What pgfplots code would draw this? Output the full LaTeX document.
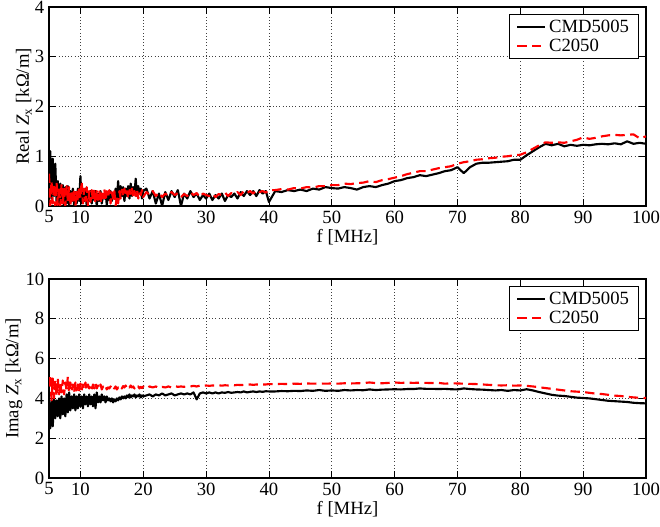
\documentclass[border=0pt]{standalone}
\usepackage{fontspec}
\setmainfont{Liberation Serif}
\usepackage{pgfplots}
\usepackage{pgfplotstable}
\pgfplotsset{compat=1.18}

\pgfplotstableread{
f cmd c
5.0 0.60 0.65
5.2 1.10 0.00
5.4 0.15 0.50
5.6 0.95 0.05
5.8 0.20 0.45
6.0 0.85 0.00
6.2 0.10 0.48
6.4 0.50 0.02
6.6 0.05 0.40
6.8 0.45 0.00
7.0 0.10 0.45
7.2 0.42 0.05
7.4 0.00 0.35
7.6 0.38 0.00
7.8 0.05 0.40
8.0 0.40 0.10
8.2 0.02 0.38
8.4 0.30 0.00
8.6 0.10 0.30
8.8 0.35 0.05
9.0 0.00 0.35
9.2 0.28 0.00
9.4 0.05 0.30
9.6 0.35 0.08
9.8 0.10 0.40
10.0 0.60 0.15
10.2 0.05 0.50
10.4 0.30 0.05
10.6 0.10 0.35
10.8 0.35 0.10
11.0 0.00 0.38
11.2 0.25 0.00
11.4 0.10 0.30
11.6 0.30 0.08
11.8 0.05 0.32
12.0 0.28 0.10
12.2 0.12 0.35
12.4 0.30 0.05
12.6 0.00 0.30
12.8 0.25 0.12
13.0 0.10 0.33
13.2 0.30 0.05
13.4 0.05 0.30
13.6 0.22 0.15
13.8 0.15 0.35
14.0 0.28 0.10
14.2 0.02 0.30
14.4 0.25 0.18
14.6 0.12 0.32
14.8 0.30 0.05
15.0 0.10 0.28
15.2 0.25 0.15
15.4 0.15 0.30
15.6 0.35 0.00
15.8 0.10 0.20
16.0 0.50 0.05
16.2 0.15 0.30
16.4 0.40 0.15
16.6 0.20 0.33
16.8 0.38 0.18
17.0 0.10 0.35
17.2 0.35 0.20
17.4 0.20 0.30
17.6 0.40 0.15
17.8 0.15 0.32
18.0 0.45 0.22
18.2 0.20 0.35
18.4 0.38 0.18
18.6 0.25 0.30
18.8 0.55 0.20
19.0 0.20 0.33
19.2 0.40 0.15
19.4 0.25 0.28
19.6 0.35 0.22
19.8 0.15 0.32
20.0 0.30 0.18
20.5 0.35 0.28
21.0 0.15 0.22
21.5 0.30 0.30
22.0 0.05 0.20
22.5 0.25 0.27
23.0 0.00 0.18
23.5 0.28 0.25
24.0 0.12 0.20
24.5 0.30 0.28
25.0 0.18 0.22
25.5 0.32 0.26
26.0 0.00 0.18
26.5 0.25 0.24
27.0 0.15 0.20
27.5 0.30 0.28
28.0 0.18 0.22
28.5 0.25 0.26
29.0 0.12 0.18
29.5 0.22 0.25
30.0 0.15 0.22
30.5 0.25 0.20
31.0 0.12 0.25
31.5 0.22 0.18
32.0 0.15 0.24
32.5 0.25 0.22
33.0 0.10 0.27
33.5 0.22 0.20
34.0 0.18 0.26
34.5 0.25 0.24
35.0 0.15 0.28
35.5 0.28 0.22
36.0 0.20 0.30
36.5 0.30 0.26
37.0 0.22 0.30
37.5 0.30 0.25
38.0 0.20 0.32
38.5 0.32 0.28
39.0 0.25 0.30
39.5 0.30 0.27
40.0 0.08 0.32
41 0.30 0.32
42 0.28 0.34
43 0.32 0.33
44 0.30 0.36
45 0.33 0.35
46 0.30 0.38
47 0.35 0.37
48 0.33 0.40
49 0.38 0.40
50 0.36 0.42
51 0.35 0.42
52 0.38 0.45
53 0.36 0.44
54 0.33 0.46
55 0.38 0.47
56 0.40 0.50
57 0.38 0.48
58 0.42 0.52
59 0.45 0.54
60 0.50 0.57
61 0.52 0.60
62 0.56 0.64
63 0.58 0.67
64 0.62 0.70
65 0.60 0.70
66 0.63 0.73
67 0.66 0.76
68 0.70 0.78
69 0.72 0.80
70 0.78 0.85
71 0.66 0.88
72 0.78 0.90
73 0.85 0.93
74 0.87 0.94
75 0.87 0.96
76 0.88 0.97
77 0.89 0.99
78 0.90 1.00
79 0.93 1.02
80 0.93 1.03
81 1.02 1.08
82 1.10 1.15
83 1.18 1.22
84 1.25 1.28
85 1.22 1.27
86 1.25 1.28
87 1.20 1.27
88 1.23 1.30
89 1.21 1.33
90 1.23 1.38
91 1.22 1.35
92 1.24 1.37
93 1.25 1.40
94 1.24 1.42
95 1.26 1.43
96 1.24 1.42
97 1.30 1.43
98 1.25 1.44
99 1.27 1.36
100 1.25 1.40
}\realtable

\pgfplotstableread{
f cmd c
5.0 3.80 4.60
5.2 2.50 5.20
5.4 3.90 3.90
5.6 2.60 5.00
5.8 4.00 4.00
6.0 3.00 4.90
6.2 3.90 4.10
6.4 3.10 5.00
6.6 4.00 4.20
6.8 3.00 4.80
7.0 4.10 4.30
7.2 3.20 4.90
7.4 4.00 4.20
7.6 3.10 4.80
7.8 4.20 4.40
8.0 3.30 5.10
8.2 4.30 4.30
8.4 3.40 4.80
8.6 4.10 4.40
8.8 3.50 4.70
9.0 4.20 4.30
9.2 3.40 4.80
9.4 4.10 4.40
9.6 3.50 4.70
9.8 4.20 4.40
10.0 3.60 4.75
10.2 4.10 4.40
10.4 3.50 4.70
10.6 4.20 4.45
10.8 3.70 4.80
11.0 4.10 4.40
11.2 3.60 4.70
11.4 4.20 4.50
11.6 3.70 4.65
11.8 4.10 4.45
12.0 3.60 4.70
12.2 4.20 4.50
12.4 3.50 4.75
12.6 4.30 4.50
12.8 3.80 4.65
13.0 4.10 4.50
13.2 3.80 4.70
13.4 4.20 4.45
13.6 3.90 4.60
13.8 4.10 4.50
14.0 3.80 4.60
14.2 4.10 4.45
14.4 3.90 4.55
14.6 4.00 4.50
14.8 3.85 4.60
15.0 4.00 4.45
15.2 3.80 4.55
15.4 3.95 4.50
15.6 3.85 4.60
15.8 4.00 4.45
16.0 3.90 4.55
16.2 4.05 4.50
16.4 3.95 4.60
16.6 4.10 4.50
16.8 4.00 4.62
17.0 4.10 4.55
17.2 4.00 4.65
17.4 4.15 4.50
17.6 4.05 4.60
17.8 4.20 4.55
18.0 4.05 4.65
18.2 4.15 4.55
18.4 4.10 4.60
18.6 4.20 4.50
18.8 4.05 4.62
19.0 4.15 4.55
19.2 4.10 4.60
19.4 4.20 4.50
19.6 4.05 4.58
19.8 4.15 4.52
20.0 4.10 4.60
20.5 4.15 4.50
21.0 4.20 4.60
21.5 4.10 4.55
22.0 4.20 4.60
22.5 4.15 4.52
23.0 4.25 4.58
23.5 4.15 4.55
24.0 4.20 4.60
24.5 4.25 4.55
25.0 4.15 4.62
25.5 4.20 4.58
26.0 4.25 4.60
26.5 4.20 4.58
27.0 4.25 4.62
27.5 4.20 4.60
28.0 4.30 4.63
28.5 3.95 4.60
29.0 4.25 4.64
29.5 4.30 4.62
30.0 4.25 4.65
30.5 4.30 4.63
31.0 4.25 4.65
31.5 4.30 4.64
32.0 4.25 4.66
32.5 4.30 4.64
33.0 4.28 4.66
33.5 4.32 4.65
34.0 4.28 4.67
34.5 4.30 4.66
35.0 4.32 4.68
35.5 4.30 4.67
36.0 4.35 4.68
36.5 4.30 4.68
37.0 4.33 4.70
37.5 4.35 4.68
38.0 4.32 4.70
38.5 4.35 4.69
39.0 4.33 4.70
39.5 4.36 4.70
40.0 4.35 4.72
41 4.35 4.72
42 4.37 4.73
43 4.36 4.72
44 4.38 4.74
45 4.37 4.73
46 4.40 4.75
47 4.38 4.74
48 4.42 4.75
49 4.38 4.74
50 4.40 4.75
51 4.38 4.74
52 4.42 4.76
53 4.40 4.75
54 4.42 4.76
55 4.41 4.77
56 4.45 4.80
57 4.42 4.77
58 4.44 4.76
59 4.45 4.78
60 4.46 4.80
61 4.45 4.78
62 4.47 4.79
63 4.47 4.78
64 4.50 4.79
65 4.48 4.78
66 4.48 4.77
67 4.47 4.78
68 4.48 4.74
69 4.46 4.76
70 4.45 4.75
71 4.50 4.74
72 4.47 4.73
73 4.45 4.72
74 4.44 4.70
75 4.42 4.68
76 4.40 4.66
77 4.42 4.65
78 4.38 4.66
79 4.42 4.64
80 4.40 4.65
81 4.46 4.63
82 4.40 4.60
83 4.32 4.56
84 4.25 4.52
85 4.18 4.48
86 4.14 4.44
87 4.12 4.40
88 4.08 4.36
89 4.04 4.34
90 4.02 4.32
91 4.00 4.28
92 3.96 4.24
93 3.92 4.22
94 3.88 4.18
95 3.86 4.14
96 3.84 4.12
97 3.82 4.08
98 3.78 4.05
99 3.76 4.03
100 3.75 4.02
}\imagtable

\pgfplotsset{
  zplot/.style={
    scale only axis,
    width=447.75pt, height=149.25pt,
    xmin=5, xmax=100,
    xtick={5,10,20,30,40,50,60,70,80,90,100},
    font=\fontsize{14}{16}\selectfont,
    /pgf/number format/assume math mode=true,
    tick label style={font=\fontsize{14}{16}\selectfont},
    label style={font=\fontsize{14}{16}\selectfont},
    axis line style={line width=1pt},
    tick style={line width=0.6pt, black},
    major tick length=5pt,
    grid=major,
    major grid style={dotted, line width=0.6pt, black!75},
    xlabel={f [MHz]},
    xlabel style={yshift=2pt},
    ylabel style={yshift=-4.5pt},
    legend style={
      at={(0.988,0.965)}, anchor=north east,
      draw=black, line width=0.8pt,
      font=\fontsize{14}{16}\selectfont,
      inner xsep=5pt, inner ysep=2pt,
      row sep=-0.5pt,
    },
    legend cell align=left,
    legend image code/.code={
      \draw[#1, line width=1.6pt] (0pt,0pt) -- (21pt,0pt);
    },
  },
  cmdline/.style={black, line width=1.6pt, no marks, line join=round},
  cline/.style={red, line width=1.6pt, no marks, dash pattern=on 7pt off 4pt, line join=round},
}

\begin{document}
\begin{tikzpicture}

\begin{axis}[
    zplot,
    ymin=0, ymax=4,
    ytick={0,1,2,3,4},
    ylabel={Real \textit{Z}\textsubscript{x} [kΩ/m]},
]
\addplot[cmdline] table[x=f, y=cmd] {\realtable};
\addlegendentry{CMD5005}
\addplot[cline] table[x=f, y=c] {\realtable};
\addlegendentry{C2050}
\end{axis}

\begin{axis}[
    zplot,
    at={(0pt,-204pt)},
    ymin=0, ymax=10,
    ytick={0,2,4,6,8,10},
    ylabel={Imag \textit{Z}\textsubscript{x} [kΩ/m]},
]
\addplot[cmdline] table[x=f, y=cmd] {\imagtable};
\addlegendentry{CMD5005}
\addplot[cline] table[x=f, y=c] {\imagtable};
\addlegendentry{C2050}
\end{axis}

\pgfresetboundingbox
\useasboundingbox (-36.75pt,-240.75pt) rectangle (458.25pt,154.5pt);
\end{tikzpicture}
\end{document}
